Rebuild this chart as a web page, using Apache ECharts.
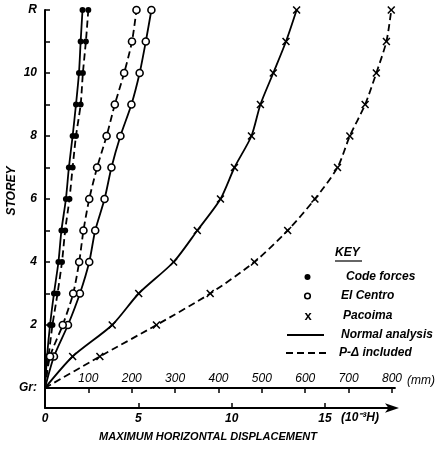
<!DOCTYPE html>
<html><head><meta charset="utf-8">
<script src="https://cdn.jsdelivr.net/npm/echarts@6/dist/echarts.min.js"></script>
<style>html,body{margin:0;padding:0;background:#fff}#c{width:445px;height:449px}</style>
</head><body><div id="c"></div>
<script>
// Storey levels (0 = Gr, 12 = R)
const storeys = [0,1,2,3,4,5,6,7,8,9,10,11,12];
// Maximum horizontal displacement (units of 10^-3 H)
const codeNormal     = [0,0.11,0.27,0.48,0.72,0.88,1.12,1.28,1.48,1.66,1.82,1.91,2.01];
const codePDelta     = [0,0.19,0.40,0.67,0.91,1.08,1.31,1.48,1.66,1.91,2.03,2.19,2.32];
const elCentroNormal = [0,0.48,1.23,1.87,2.37,2.69,3.19,3.56,4.04,4.63,5.07,5.40,5.70];
const elCentroPDelta = [0,0.27,0.95,1.51,1.83,2.06,2.37,2.79,3.30,3.74,4.24,4.66,4.90];
const pacoimaNormal  = [0,1.48,3.60,5.02,6.89,8.16,9.40,10.15,11.06,11.54,12.23,12.91,13.48];
const pacoimaPDelta  = [0,2.94,5.97,8.85,11.22,13.00,14.46,15.67,16.33,17.15,17.75,18.29,18.55];
// Tick labels
const storeyLabelValues = [0,2,4,6,8,10,12];
const storeyLabelText = {0:'Gr:',2:'2',4:'4',6:'6',8:'8',10:'10',12:'R'};
const dispTicks = [0,5,10,15];
const mmTicks = [100,200,300,400,500,600,700,800];

const FONT = '"Liberation Sans", Arial, sans-serif';
const crossPath = 'path://M0,1.4L1.4,0L5,3.6L8.6,0L10,1.4L6.4,5L10,8.6L8.6,10L5,6.4L1.4,10L0,8.6L3.6,5Z';
const dash = [7,4];

function pts(arr){ return arr.map((v,i)=> i===0 ? {value:[v,storeys[i]], symbol:'none'} : [v,storeys[i]]); }

function mk(name, arr, dashed, kind){
  const s = {
    name, type:'line', xAxisIndex:0, yAxisIndex:0, data: pts(arr),
    smooth: 0.25, animation:false,
    lineStyle:{color:'#000', width:1.8, type: dashed ? dash : 'solid'},
    z: 3
  };
  if(kind==='code'){ s.symbol='circle'; s.symbolSize=6; s.itemStyle={color:'#000'}; }
  if(kind==='el'){ s.symbol='circle'; s.symbolSize=7; s.itemStyle={color:'#fff', borderColor:'#000', borderWidth:1.6}; }
  if(kind==='pac'){ s.symbol=crossPath; s.symbolSize=8; s.itemStyle={color:'#000'}; }
  return s;
}

const chart = echarts.init(document.getElementById('c'), null, {renderer:'canvas'});
const txt = (x,y,t,opts={}) => Object.assign({type:'text', x, y, style:Object.assign({text:t, fill:'#000', font:'italic bold 12px '+FONT, textAlign:'left', textVerticalAlign:'middle'}, opts)});

chart.setOption({
  backgroundColor:'#fff',
  animation:false,
  grid:[
    {left:45, right:50, top:10, bottom:41, containLabel:false},
    {left:45, right:50, top:10, bottom:61, containLabel:false}
  ],
  xAxis:[{
    gridIndex:0, type:'value', min:0, max:18.75, position:'bottom',
    axisLine:{onZero:false, lineStyle:{color:'#000', width:1.8}, symbol:['none','arrow'], symbolSize:[7,14], symbolOffset:[0,4]},
    axisTick:{show:true, inside:true, length:5, lineStyle:{color:'#000', width:1.5}, customValues:[5,10,15]},
    axisLabel:{customValues:dispTicks, color:'#000', fontStyle:'italic', fontWeight:'bold', fontSize:12, fontFamily:FONT, margin:5},
    splitLine:{show:false}
  },{
    gridIndex:1, type:'value', min:0, max:807, position:'bottom',
    axisLine:{onZero:false, lineStyle:{color:'#000', width:1.8}},
    axisTick:{show:true, inside:false, length:5, lineStyle:{color:'#000', width:1.5}, customValues:mmTicks},
    axisLabel:{inside:true, customValues:mmTicks, color:'#000', fontStyle:'italic', fontSize:12, fontFamily:FONT, margin:3},
    splitLine:{show:false}
  }],
  yAxis:[{
    gridIndex:0, type:'value', min:-0.635, max:12,
    axisLine:{show:true, onZero:false, lineStyle:{color:'#000', width:2}},
    axisTick:{show:true, inside:true, length:5, lineStyle:{color:'#000', width:1.5}, customValues:storeys},
    axisLabel:{customValues:storeyLabelValues, formatter:v=>storeyLabelText[v] ?? '', color:'#000', fontStyle:'italic', fontWeight:'bold', fontSize:12, fontFamily:FONT, margin:8},
    splitLine:{show:false}
  },{
    gridIndex:1, type:'value', min:0, max:12, show:false
  }],
  series:[
    mk('Code forces – normal', codeNormal, false, 'code'),
    mk('Code forces – P-Δ', codePDelta, true, 'code'),
    mk('El Centro – normal', elCentroNormal, false, 'el'),
    mk('El Centro – P-Δ', elCentroPDelta, true, 'el'),
    mk('Pacoima – normal', pacoimaNormal, false, 'pac'),
    mk('Pacoima – P-Δ', pacoimaPDelta, true, 'pac')
  ],
  graphic:[
    {type:'text', x:12, y:191, rotation:Math.PI/2, style:{text:'STOREY', fill:'#000', font:'italic bold 12px '+FONT, textAlign:'center', textVerticalAlign:'middle'}},
    txt(208,437,'MAXIMUM HORIZONTAL DISPLACEMENT',{textAlign:'center', font:'italic bold 11px '+FONT}),
    txt(341,418,'(10\u207B\u00B3H)',{textAlign:'left'}),
    txt(407,381,'(mm)',{font:'italic 12px '+FONT}),
    txt(335,253,'KEY'),
    {type:'line', shape:{x1:335,y1:261,x2:362,y2:261}, style:{stroke:'#000', lineWidth:1.2}},
    {type:'circle', shape:{cx:307.5,cy:277,r:3}, style:{fill:'#000'}},
    txt(346,277,'Code forces'),
    {type:'circle', shape:{cx:307.5,cy:296,r:2.8}, style:{fill:'#fff', stroke:'#000', lineWidth:1.6}},
    txt(341,296,'El Centro'),
    txt(308,316,'x',{textAlign:'center', font:'bold 13px '+FONT}),
    txt(343,316,'Pacoima'),
    {type:'line', shape:{x1:287,y1:335,x2:324,y2:335}, style:{stroke:'#000', lineWidth:1.8}},
    txt(341,335,'Normal analysis'),
    {type:'line', shape:{x1:286,y1:353,x2:326,y2:353}, style:{stroke:'#000', lineWidth:1.8, lineDash:dash}},
    txt(339,353,'P-\u0394 included')
  ]
});
</script></body></html>
